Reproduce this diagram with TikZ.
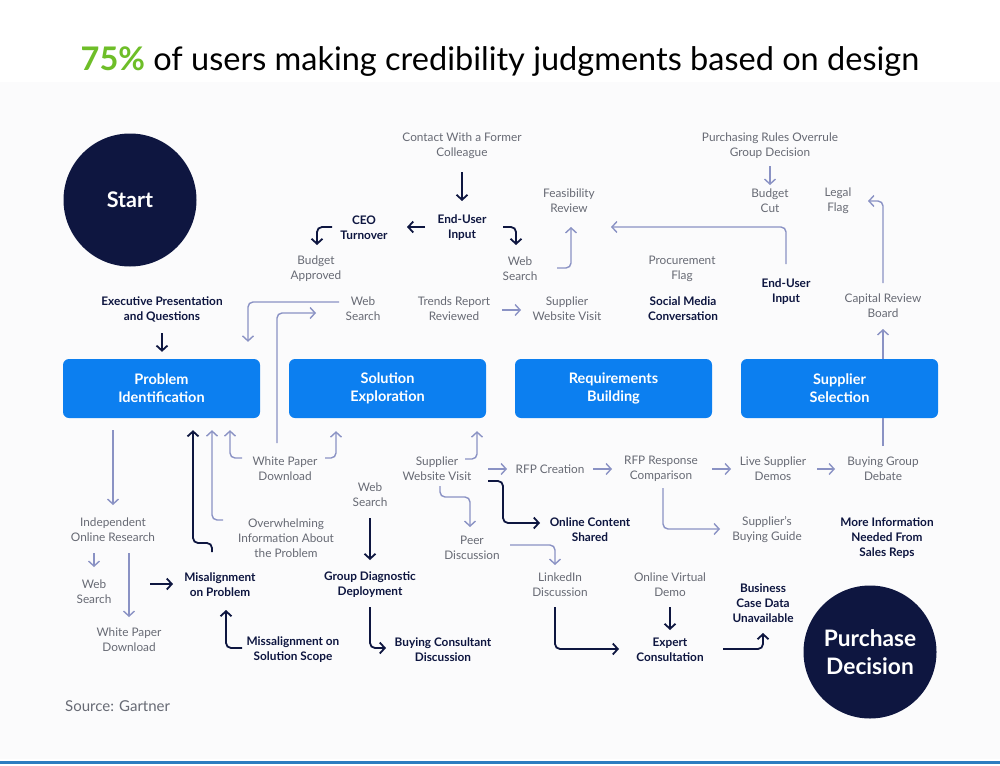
\documentclass[tikz,border=0pt]{standalone}
\usepackage{fontspec}
\setmainfont{Lato}
\usetikzlibrary{arrows.meta,calc}
\definecolor{navy}{HTML}{0E1640}
\definecolor{boxblue}{HTML}{0C7FF0}
\definecolor{lightarr}{HTML}{8A92C4}
\definecolor{graytxt}{HTML}{676A74}
\definecolor{green75}{HTML}{6EBE28}
\definecolor{panel}{HTML}{FBFBFC}
\definecolor{lineblue}{HTML}{2D7DC0}
\tikzset{
  gt/.style={font=\fontsize{11.8}{15}\selectfont, text=graytxt, align=center, inner sep=0pt},
  bt/.style={font=\fontsize{11.8}{15}\selectfont\bfseries, text=navy, align=center, inner sep=0pt},
  stagebox/.style={fill=boxblue, rounded corners=6pt, minimum width=197pt, minimum height=59pt, text=white, align=center, font=\fontsize{14.5}{18}\selectfont\bfseries},
  bigcirc/.style={circle, fill=navy, minimum size=133pt, inner sep=0pt, text=white, align=center},
  lt/.style={draw=lightarr, line width=1.4pt, rounded corners=5pt, -{Straight Barb[length=5pt,width=11pt,line width=1.4pt]}},
  ltline/.style={draw=lightarr, line width=1.4pt},
  dk/.style={draw=navy, line width=1.8pt, rounded corners=5pt, -{Straight Barb[length=5pt,width=11pt,line width=1.8pt]}},
}
\begin{document}
\begin{tikzpicture}[x=1pt,y=-1pt]
\useasboundingbox (0,0) rectangle (1000,765);
\fill[white] (0,0) rectangle (1000,765);
\fill[panel] (0,82) rectangle (1000,759);
\draw[draw=lineblue, line width=2.5pt] (0,762.5) -- (1000,762.5);

\node[font=\fontsize{32.5}{38}\selectfont, text=black] (title) at (500,61) {{\color{green75}\bfseries 75\%} of users making credibility judgments based on design};
\node[font=\fontsize{15}{18}\selectfont, text=graytxt, anchor=west, inner sep=0pt] (src) at (65,706) {Source: Gartner};

\node[bigcirc, font=\fontsize{21.5}{26}\selectfont\bfseries] (start) at (130,200) {Start};
\node[bigcirc, font=\fontsize{22.7}{28}\selectfont\bfseries] (pdec) at (870,652) {Purchase\\Decision};

\node[stagebox] (pi) at (161.5,388.5) {Problem\\Identification};
\node[stagebox] (se) at (387.5,388.5) {Solution\\Exploration};
\node[stagebox] (rb) at (613.5,388.5) {Requirements\\Building};
\node[stagebox] (ss) at (839.5,388.5) {Supplier\\Selection};

% top area
\node[gt] (ctc) at (462,146) {Contact With a Former\\Colleague};
\node[bt] (eu1) at (462,228) {End-User\\Input};
\node[bt] (ceo) at (364,228) {CEO\\Turnover};
\node[gt] (bap) at (316,269) {Budget\\Approved};
\node[gt] (ws1) at (520,269) {Web\\Search};
\node[gt] (fr) at (569,201) {Feasibility\\Review};
\node[gt] (pf) at (682,269) {Procurement\\Flag};
\node[gt] (pr) at (770,146) {Purchasing Rules Overrule\\Group Decision};
\node[gt] (bc) at (770,201) {Budget\\Cut};
\node[gt] (lf) at (838,201) {Legal\\Flag};
\node[gt] (crb) at (883,306) {Capital Review\\Board};
\node[bt] (eu2) at (786,292) {End-User\\Input};
\node[bt] (smc) at (683,309) {Social Media\\Conversation};
\node[bt] (epq) at (162,309) {Executive Presentation\\and Questions};
\node[gt] (ws2) at (363,309) {Web\\Search};
\node[gt] (trr) at (454,309) {Trends Report\\Reviewed};
\node[gt] (swv1) at (567,309) {Supplier\\Website Visit};

% lower area
\node[gt] (wpd1) at (285,469) {White Paper\\Download};
\node[gt] (swv2) at (437,469) {Supplier\\Website Visit};
\node[gt] (rfp) at (550,469) {RFP Creation};
\node[gt] (rrc) at (661,469) {RFP Response\\Comparison};
\node[gt] (lsd) at (773,469) {Live Supplier\\Demos};
\node[gt] (bgd) at (883,469) {Buying Group\\Debate};
\node[gt] (ior) at (113,530) {Independent\\Online Research};
\node[gt] (oip) at (286,538) {Overwhelming\\Information About\\the Problem};
\node[bt] (ocs) at (590,530) {Online Content\\Shared};
\node[gt] (sbg) at (767,530) {Supplier’s\\Buying Guide};
\node[bt] (mis) at (887,538) {More Information\\Needed From\\Sales Reps};
\node[gt] (ws3) at (370,495) {Web\\Search};
\node[gt] (pd) at (472,548) {Peer\\Discussion};
\node[gt] (ws4) at (94,592) {Web\\Search};
\node[bt] (mop) at (220,585) {Misalignment\\on Problem};
\node[bt] (gdd) at (370,585) {Group Diagnostic\\Deployment};
\node[gt] (lid) at (560,585) {LinkedIn\\Discussion};
\node[gt] (ovd) at (670,585) {Online Virtual\\Demo};
\node[bt] (bcd) at (763,603) {Business\\Case Data\\Unavailable};
\node[gt] (wpd2) at (129,640) {White Paper\\Download};
\node[bt] (mss) at (293,650) {Missalignment on\\Solution Scope};
\node[bt] (bcon) at (443,650) {Buying Consultant\\Discussion};
\node[bt] (ec) at (670,650) {Expert\\Consultation};

% dark connectors
\draw[dk] ($(ctc)+(0,26)$) -- ($(eu1)+(0,-27)$);
\draw[dk] ($(eu1)+(-37,-1)$) -- ($(ceo)+(43,-1)$);
\draw[dk] ($(ceo)+(-32,-1)$) -| ($(bap)+(1,-24)$);
\draw[dk] ($(eu1)+(41,-1)$) -| ($(ws1)+(-4,-24)$);
\draw[dk] ($(epq)+(0,24)$) -- ($(pi.north)+(0.5,-7)$);
\draw[dk] ($(mop)+(-8,-33)$) -- ($(mop)+(-8,-42)$) -| ($(pi.south)+(31.5,12)$);
\draw[dk] ($(ws3)+(0,23)$) -- ($(gdd)+(0,-25)$);
\draw[dk] ($(gdd)+(0,22)$) |- ($(bcon)+(-57,-2)$);
\draw[dk] ($(swv2)+(51,12)$) -| ($(ocs)+(-87,-7)$) -- ($(ocs)+(-50,-7)$);
\draw[dk] ($(lid)+(-5,22)$) |- ($(ec)+(-51,-1)$);
\draw[dk] ($(ovd)+(0,22)$) -- ($(ec)+(0,-20)$);
\draw[dk] ($(ec)+(53,-1)$) -| ($(bcd)+(0,30)$);
\draw[dk] ($(ws4)+(56,-8)$) -- ($(mop)+(-47,-1)$);
\draw[dk] ($(mss)+(-51,-2)$) -| ($(mop)+(6,25)$);

% light connectors
\draw[lt] ($(ws2)+(-24,-7)$) -| ($(pi.north)+(86.5,-17)$);
\draw[lt] ($(wpd1)+(-8,-26)$) |- ($(ws2)+(-47,4)$);
\draw[lt] ($(trr)+(48,1)$) -- ($(swv1)+(-46,1)$);
\draw[lt] ($(ws1)+(37,-1)$) -| ($(fr)+(2,26)$);
\draw[lt] ($(eu2)+(0,-28)$) |- ($(fr)+(42,26)$);
\draw[lt] ($(pr)+(0,20)$) -- ($(bc)+(0,-16)$);
\draw[lt] ($(crb)+(0,-23)$) |- ($(lf)+(30,0)$);
\draw[lt] ($(ss.north)+(43.5,0)$) -- ($(crb)+(0,23)$);
\draw[ltline] ($(bgd)+(0,-23)$) -- ($(ss.south)+(43.5,0)$);
\draw[lt] ($(pi.south)+(-48.5,12)$) -- ($(ior)+(0,-25)$);
\draw[lt] ($(oip)+(-63,-18)$) -| ($(pi.south)+(50.5,12)$);
\draw[lt] ($(wpd1)+(-43,-11)$) -| ($(pi.south)+(68.5,12)$);
\draw[lt] ($(wpd1)+(40,-11)$) -| ($(se.south)+(-51.5,13)$);
\draw[lt] ($(swv2)+(28,-10)$) -| ($(se.south)+(89.5,13)$);
\draw[lt] ($(swv2)+(51,0)$) -- ($(rfp)+(-43,0)$);
\draw[lt] ($(rfp)+(43,0)$) -- ($(rrc)+(-49,0)$);
\draw[lt] ($(rrc)+(2,19)$) |- ($(sbg)+(-47,-1)$);
\draw[lt] ($(rrc)+(51,0)$) -- ($(lsd)+(-42,0)$);
\draw[lt] ($(lsd)+(44,0)$) -- ($(bgd)+(-48,0)$);
\draw[lt] ($(swv2)+(3,17)$) -- ($(swv2)+(3,28)$) -| ($(pd)+(-2,-21)$);
\draw[lt] ($(pd)+(38,-3)$) -| ($(lid)+(-5,-20)$);
\draw[lt] ($(ior)+(-19,23)$) -- ($(ws4)+(0,-25)$);
\draw[lt] ($(ior)+(16,23)$) -- ($(wpd2)+(0,-23)$);
\end{tikzpicture}
\end{document}
